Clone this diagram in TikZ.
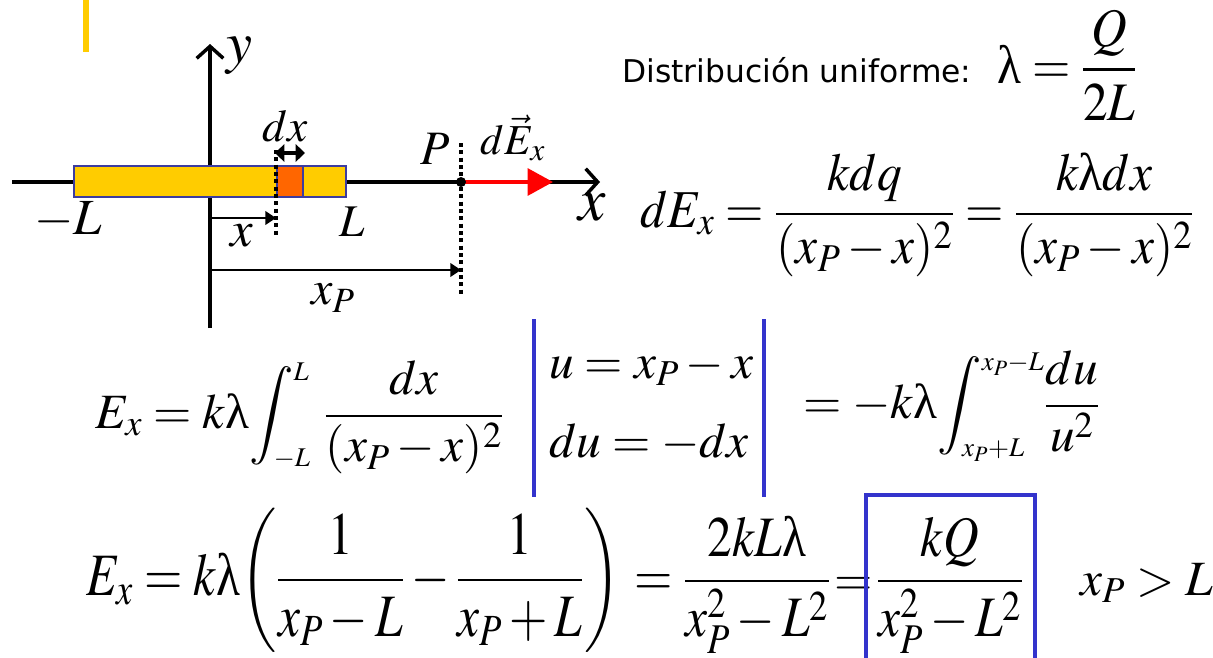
\documentclass[tikz,border=0pt]{standalone}
\usepackage{amsmath}
\usepackage{mathptmx}
\usepackage[no-math]{fontspec}
\newfontfamily\tahomafont{DejaVu Sans}
\newfontfamily\greekfont{Liberation Serif}
\usetikzlibrary{arrows.meta}
\definecolor{rodgold}{RGB}{255,204,0}
\definecolor{rodorange}{RGB}{255,102,0}
\definecolor{rodedge}{RGB}{60,60,160}
\definecolor{barblue}{RGB}{51,51,204}
\newcommand{\bigmath}{\fontsize{37}{44}\selectfont}
\newcommand{\labfont}[1]{\fontsize{#1}{#1}\selectfont}
\newcommand{\limsize}[1]{\scalebox{0.74}{$\scriptstyle #1$}}
\newcommand{\stretched}[2]{\scalebox{1}[#1]{#2}}
\newcommand{\lam}{\text{\greekfont λ}}
\tikzset{
	lab/.style={inner sep=0pt,font=\labfont{#1}},
	eq/.style={inner sep=0pt,anchor=base west,font=\bigmath},
	txt/.style={inner sep=0pt,anchor=base west,font=\tahomafont\fontsize{23.5}{28}\selectfont}
}

\begin{document}
\begin{tikzpicture}[x=0.75pt,y=-0.75pt,
		axis/.style={line width=2.6pt,-{Straight Barb[length=9pt,width=20pt,line width=2.6pt]}},
		dim/.style={line width=2.2pt,-{Triangle[length=8pt,width=10pt]}},
		guide/.style={line width=2.6pt,dash pattern=on 3pt off 2.5pt}]
	\useasboundingbox (0,0) rectangle (1213,657);
	\coordinate (1) at (12,182);
	\coordinate (2) at (600,182);
	\coordinate (3) at (210,328);
	\coordinate (4) at (210,44);
	\coordinate (5) at (276,150);
	\coordinate (6) at (276,236);
	\coordinate (7) at (461,143);
	\coordinate (8) at (461,294);
	\coordinate (9) at (461,182);
	\coordinate (10) at (553,182);
	\coordinate (11) at (210,218);
	\coordinate (12) at (276,218);
	\coordinate (13) at (210,270);
	\coordinate (14) at (461,270);
	\coordinate (15) at (275,153);
	\coordinate (16) at (305,153);

	\fill[rodgold] (83,0) rectangle (89,52);

	\draw[axis] (1) -- (2);
	\draw[axis] (3) -- (4);
	\filldraw[rodgold,draw=rodedge,line width=1.2pt] (74,166) rectangle (346,197);
	\filldraw[rodorange,draw=rodedge,line width=1.2pt] (277,166) rectangle (303,197);
	\draw[guide] (5) -- (6);
	\draw[guide] (7) -- (8);
	\draw[line width=3pt,red,-{Triangle[length=19pt,width=20pt]}] (9) -- (10);
	\fill[black] (9) circle (5);
	\draw[dim] (11) -- (12);
	\draw[dim] (13) -- (14);
	\draw[line width=2.4pt,{Triangle[length=7pt,width=13pt]}-{Triangle[length=7pt,width=13pt]}] (15) -- (16);

	\node[lab=44] (ylab) at (240,56) {$y$};
	\node[lab=34] (dxlab) at (285,126) {$dx$};
	\node[lab=36] (plab) at (435,149) {$P$};
	\node[lab=32] (delab) at (513,138) {$d\vec{E}_x$};
	\node[lab=46] (xaxlab) at (592,208) {$x$};
	\node[lab=38] (mllab) at (68,220) {$-L$};
	\node[lab=34] (llab) at (352,222) {$L$};
	\node[lab=38] (xlab) at (242,236) {$x$};
	\node[lab=36] (xplab) at (333,298) {$x_P$};

	\node[txt] (dist) at (622,82) {Distribución uniforme:};
	\node[eq] (lam) at (997,83) {\stretched{1.1}{$\displaystyle\lam=\frac{Q}{2L}$}};
	\node[eq] (dex) at (640,227) {\stretched{1.08}{$\displaystyle dE_x=\frac{kdq}{(x_P-x)^2}=\frac{k\lam dx}{(x_P-x)^2}$}};

	\node[eq] (exint) at (95,428) {$\displaystyle E_x=k\lam\!\int_{\limsize{-L}}^{\limsize{L}}$};
	\node[eq] (exfrac) at (324,428) {$\displaystyle\frac{dx}{(x_P-x)^2}$};
	\node[eq] (usub) at (549,378) {$u=x_P-x$};
	\node[eq] (dusub) at (549,457) {$du=-dx$};
	\node[eq] (exu) at (803,418) {$\displaystyle =-k\lam\!\int_{\limsize{x_P+L}}^{\limsize{x_P-L}}$};
	\node[eq] (exufrac) at (1044,418) {$\displaystyle\frac{du}{u^2}$};

	\node[eq] (exres) at (86,595) {\stretched{1.22}{$\displaystyle E_x=k\lam{\left(\frac{1}{x_P-L}-\frac{1}{x_P+L}\right)}$}};
	\node[eq] (exsum) at (634,595) {\stretched{1.16}{$\displaystyle =\frac{2kL\lam}{x_P^2-L^2}$}};
	\node[eq] (eqsign) at (834,595) {$=$};
	\node[eq,anchor=base] (kq) at (950,595) {\stretched{1.16}{$\displaystyle\frac{kQ}{x_P^2-L^2}$}};
	\node[eq] (cond) at (1080,595) {$x_P>L$};

	\draw[barblue,line width=3pt] (534,319) -- (534,497);
	\draw[barblue,line width=3pt] (764,319) -- (764,497);
	\draw[barblue,line width=3pt] (866,660) -- (866,495) -- (1035,495) -- (1035,660);
\end{tikzpicture}
\end{document}
